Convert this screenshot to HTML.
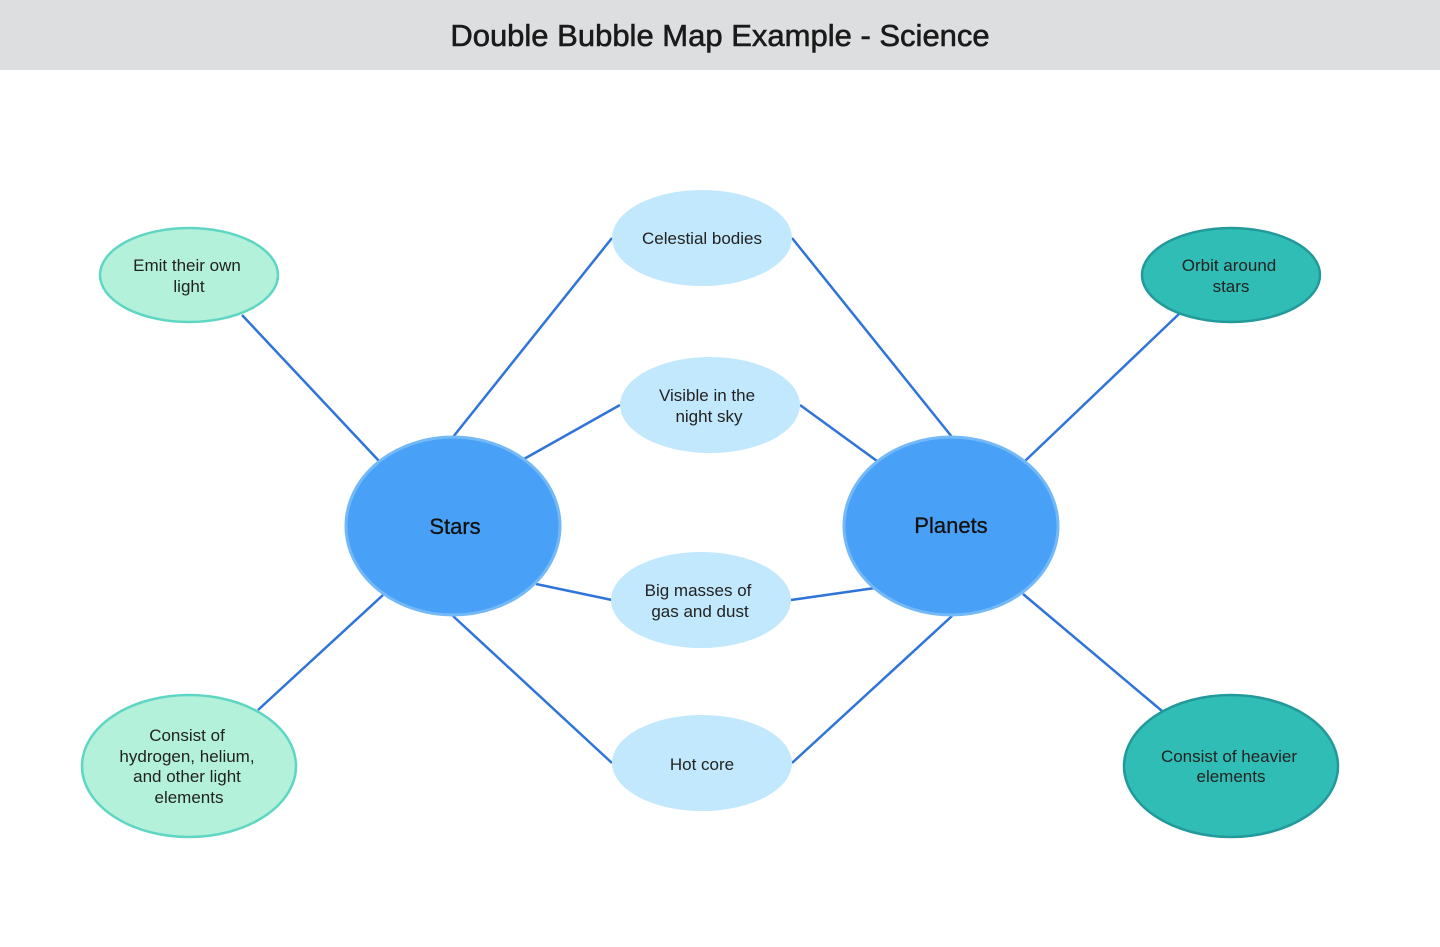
<!DOCTYPE html>
<html><head><meta charset="utf-8"><style>
html,body{margin:0;padding:0;background:#fff;width:1440px;height:947px;overflow:hidden}
</style></head><body>
<svg width="1440" height="947" xmlns="http://www.w3.org/2000/svg" font-family="Liberation Sans, sans-serif">
<rect x="0" y="0" width="1440" height="70" fill="#dddee0"/>
<text x="720" y="46" text-anchor="middle" font-size="31" fill="#1a1a1a" stroke="#1a1a1a" stroke-width="0.6">Double Bubble Map Example - Science</text>
<g stroke="#2f74d8" stroke-width="2.5">
<line x1="453" y1="437" x2="612" y2="238"/>
<line x1="524" y1="459" x2="620" y2="405"/>
<line x1="536" y1="584" x2="612" y2="600"/>
<line x1="453" y1="616" x2="612" y2="763"/>
<line x1="792" y1="238" x2="952" y2="437"/>
<line x1="800" y1="405" x2="877" y2="461"/>
<line x1="791" y1="600" x2="875" y2="588"/>
<line x1="792" y1="763" x2="952" y2="616"/>
<line x1="379" y1="461" x2="242" y2="315"/>
<line x1="383" y1="595" x2="258" y2="710"/>
<line x1="1025" y1="461" x2="1180" y2="313"/>
<line x1="1023" y1="594" x2="1162" y2="711"/>
</g>
<g fill="#c2e8fd">
<ellipse cx="702" cy="238" rx="90" ry="48"/>
<ellipse cx="710" cy="405" rx="90" ry="48"/>
<ellipse cx="701" cy="600" rx="90" ry="48"/>
<ellipse cx="702" cy="763" rx="90" ry="48"/>
</g>
<g fill="#48a1f7" stroke="#74b9f7" stroke-width="3">
<ellipse cx="453" cy="526" rx="107" ry="89"/>
<ellipse cx="951" cy="526" rx="107" ry="89"/>
</g>
<g fill="#b3f1db" stroke="#5fd6c3" stroke-width="2.5">
<ellipse cx="189" cy="275" rx="89" ry="47"/>
<ellipse cx="189" cy="766" rx="107" ry="71"/>
</g>
<g fill="#30bdb5" stroke="#22999a" stroke-width="2.5">
<ellipse cx="1231" cy="275" rx="89" ry="47"/>
<ellipse cx="1231" cy="766" rx="107" ry="71"/>
</g>
<g font-size="17" fill="#222" text-anchor="middle">
<text x="702" y="244">Celestial bodies</text>
<text x="707" y="401">Visible in the</text><text x="709" y="422">night sky</text>
<text x="698" y="596">Big masses of</text><text x="700" y="617">gas and dust</text>
<text x="702" y="770">Hot core</text>
<text x="187" y="271">Emit their own</text><text x="189" y="292">light</text>
<text x="187" y="741">Consist of</text><text x="187" y="762">hydrogen, helium,</text><text x="187" y="782">and other light</text><text x="189" y="803">elements</text>
<text x="1229" y="271">Orbit around</text><text x="1231" y="292">stars</text>
<text x="1229" y="762">Consist of heavier</text><text x="1231" y="782">elements</text>
</g>
<g font-size="22" fill="#111" text-anchor="middle" stroke="#111" stroke-width="0.3">
<text x="455" y="534">Stars</text>
<text x="951" y="533">Planets</text>
</g>
</svg>
</body></html>
